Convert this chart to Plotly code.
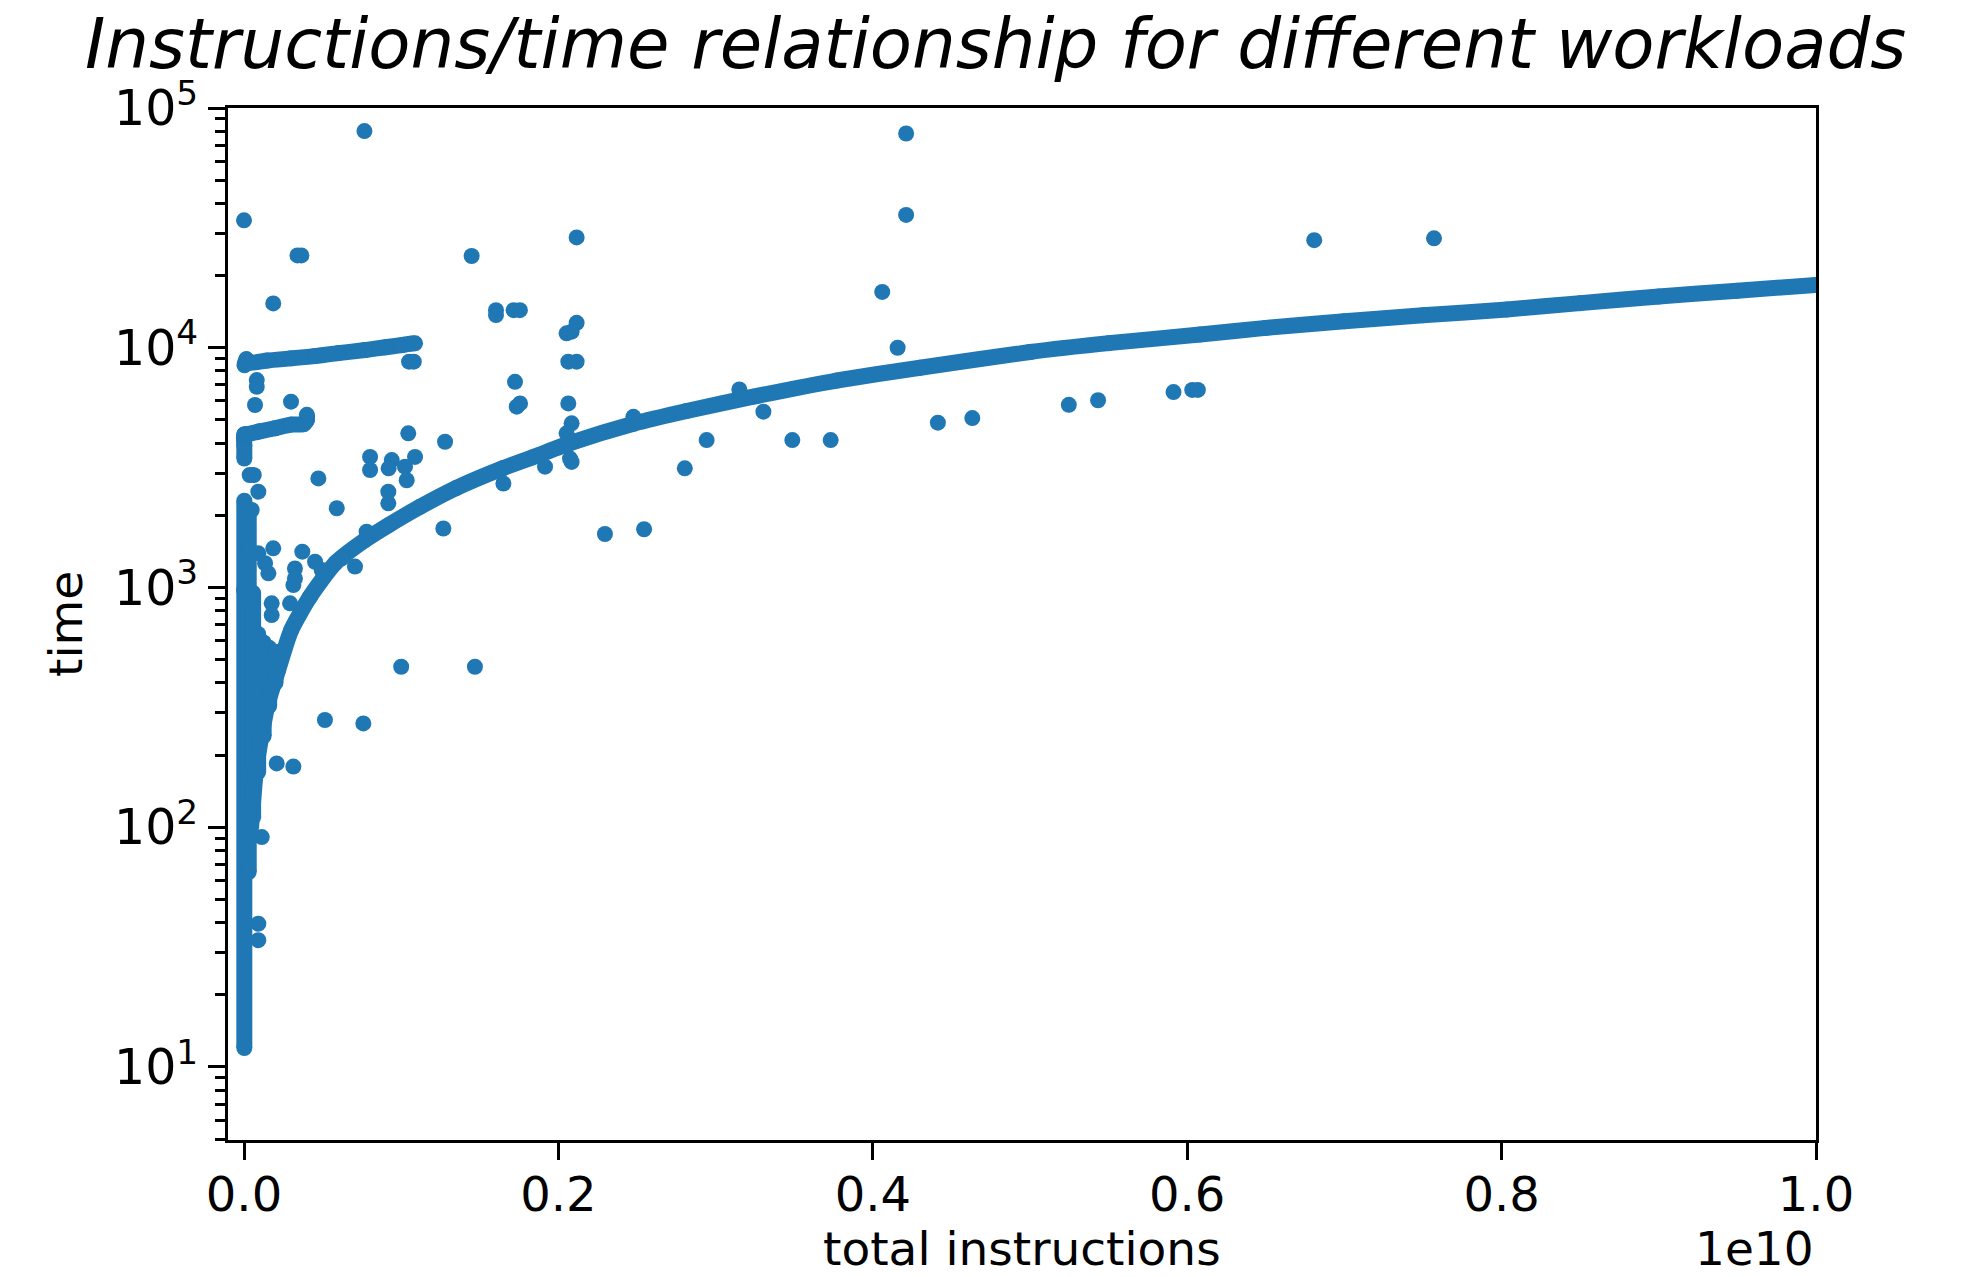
import plotly.graph_objects as go

# ---------------- data (x in units of 1e10 instructions, y = time) ----------------
E10 = 1e10

# dense main band
curve_x_e10 = [0.0045, 0.0076, 0.011, 0.0152, 0.0217, 0.030, 0.042, 0.058, 0.077, 0.092,
               0.112, 0.135, 0.165, 0.185, 0.2074, 0.2477, 0.2816, 0.324, 0.377, 0.43,
               0.50, 0.55, 0.6081, 0.65, 0.70, 0.75, 0.8034, 0.85, 0.90, 0.95, 1.0]
curve_time = [100, 173, 238, 329, 452, 664, 915, 1262, 1577, 1820,
              2170, 2600, 3150, 3520, 4000, 4820, 5450, 6250, 7300, 8250,
              9600, 10450, 11350, 12100, 12900, 13650, 14450, 15350, 16350, 17300, 18270]

# dense column of short workloads near x = 0 (each strand: x, lowest time, highest time)
column_x_e10 = [0.0002, 0.0030, 0.0058, 0.0090, 0.0125, 0.0160, 0.0200]
column_time_low = [12, 65, 110, 170, 240, 320, 400]
column_time_high = [2300, 2100, 950, 640, 590, 560, 540]

# upper plateau (~1e4)
plateau_hi_x_e10 = [0.0003, 0.0015, 0.0030, 0.0150, 0.0300, 0.0452, 0.0600, 0.0770,
                    0.0900, 0.1000, 0.1060, 0.1088]
plateau_hi_time = [8450, 8950, 8650, 8850, 9030, 9230, 9500, 9780, 10050, 10250, 10400, 10430]

# lower plateau (~4.5e3)
plateau_lo_x_e10 = [0.0002, 0.0002, 0.0002, 0.0027, 0.010, 0.020, 0.030, 0.038, 0.040, 0.040]
plateau_lo_time = [3450, 3900, 4350, 4365, 4480, 4620, 4780, 4800, 5000, 5250]

# scattered workloads
outlier_x_e10 = [0.0766, 0.4212, 0.4212, 0.0000, 0.0340, 0.0365, 0.1448, 0.2116, 0.6808, 0.7570,
                 0.4060, 0.0186, 0.1603, 0.1603, 0.1715, 0.1755, 0.2116, 0.2084, 0.2052, 0.4158,
                 0.2063, 0.2116, 0.1050, 0.1080, 0.0081, 0.0081, 0.1724, 0.0070, 0.0299, 0.1735,
                 0.1756, 0.2063, 0.2084, 0.2052, 0.5913, 0.6032, 0.6068, 0.5433, 0.5247, 0.4633,
                 0.4414, 0.3151, 0.3304, 0.3488, 0.3732, 0.2943, 0.2804, 0.2477, 0.1045, 0.1279,
                 0.0036, 0.0062, 0.0473, 0.0802, 0.0802, 0.0940, 0.0920, 0.1024, 0.1035, 0.1088,
                 0.0918, 0.0918, 0.0590, 0.0091, 0.0049, 0.1268, 0.2074, 0.2084, 0.1915, 0.1650,
                 0.2296, 0.2545, 0.0780, 0.0186, 0.0371, 0.0452, 0.0494, 0.0324, 0.0324, 0.0314,
                 0.0622, 0.0706, 0.0027, 0.0091, 0.0134, 0.0155, 0.0000, 0.0049, 0.0176, 0.0176,
                 0.0293, 0.0515, 0.0759, 0.1000, 0.1469, 0.0208, 0.0314, 0.0091, 0.0091, 0.0113]
outlier_time = [80100, 78300, 35800, 34000, 24270, 24270, 24140, 28840, 28100, 28600,
                17100, 15300, 14350, 13680, 14350, 14350, 12700, 11670, 11480, 10000,
                8750, 8750, 8750, 8750, 7330, 6870, 7210, 5770, 5960, 5680,
                5860, 5860, 4840, 4395, 6530, 6670, 6670, 6040, 5780, 5090,
                4870, 6700, 5410, 4120, 4120, 4120, 3140, 5150, 4395, 4055,
                2945, 2945, 2850, 3505, 3090, 3400, 3140, 3190, 2800, 3505,
                2510, 2245, 2140, 2510, 2105, 1762, 3450, 3340, 3190, 2715,
                1671, 1750, 1710, 1456, 1410, 1280, 1182, 1200, 1090, 1023,
                1322, 1222, 1503, 1388, 1262, 1146, 975, 885, 859, 767,
                859, 280, 271, 467, 467, 184.5, 179, 39.6, 33.8, 91]

x_tick_vals_e10 = [0.0, 0.2, 0.4, 0.6, 0.8, 1.0]
x_tick_text = ["0.0", "0.2", "0.4", "0.6", "0.8", "1.0"]
y_tick_vals = [10, 100, 1000, 10000, 100000]
y_tick_text = ["10<sup>1</sup>", "10<sup>2</sup>", "10<sup>3</sup>", "10<sup>4</sup>", "10<sup>5</sup>"]

# ---------------- styling ----------------
BLUE = "#1f77b4"
DOT = 16

fig = go.Figure()


def band(xs, ys):
    fig.add_trace(go.Scatter(
        x=[v * E10 for v in xs], y=ys, mode="lines+markers",
        line=dict(color=BLUE, width=DOT, shape="spline", smoothing=0.6),
        marker=dict(color=BLUE, size=DOT, line=dict(width=0)),
        showlegend=False, hoverinfo="skip"))


for cx, lo, hi in zip(column_x_e10, column_time_low, column_time_high):
    band([cx, cx], [lo, hi])
band(curve_x_e10, curve_time)
band(plateau_hi_x_e10, plateau_hi_time)
band(plateau_lo_x_e10, plateau_lo_time)

fig.add_trace(go.Scatter(
    x=[v * E10 for v in outlier_x_e10], y=outlier_time, mode="markers",
    marker=dict(color=BLUE, size=DOT, line=dict(width=0)), showlegend=False, hoverinfo="skip"))

minor_vals = [m * 10 ** d for d in range(0, 5) for m in range(2, 10) if m * 10 ** d >= 5]

fig.update_layout(
    width=1977, height=1277, autosize=False,
    margin=dict(l=228, r=161, t=108, b=137, pad=0),
    paper_bgcolor="white", plot_bgcolor="white",
    xaxis=dict(
        range=[-1.018e8, 1.0e10], tickmode="array",
        tickvals=[v * E10 for v in x_tick_vals_e10], ticktext=x_tick_text,
        ticks="outside", ticklen=17, tickwidth=3, tickcolor="black",
        ticklabelstandoff=-7,
        showgrid=False, zeroline=False, showline=True, mirror=True,
        linecolor="black", linewidth=3,
        tickfont=dict(family="DejaVu Sans", size=48, color="black")),
    yaxis=dict(
        type="log", range=[0.6954, 5.0], tickmode="array",
        tickvals=y_tick_vals, ticktext=y_tick_text,
        ticks="outside", ticklen=17, tickwidth=3, tickcolor="black",
        minor=dict(tickmode="array", tickvals=minor_vals, ticks="outside",
                   ticklen=10, tickwidth=2.5, tickcolor="black", showgrid=False),
        showgrid=False, zeroline=False, showline=True, mirror=True,
        linecolor="black", linewidth=3,
        tickfont=dict(family="DejaVu Sans", size=49, color="black")),
    annotations=[
        dict(text="<i>Instructions/time relationship for different workloads</i>",
             xref="paper", yref="paper", x=0.4836, y=1 + 64 / 1032,
             xanchor="center", yanchor="middle", showarrow=False,
             font=dict(family="DejaVu Sans", size=69, color="black")),
        dict(text="total instructions", xref="paper", yref="paper",
             x=0.5, y=-108 / 1032, xanchor="center", yanchor="middle", showarrow=False,
             font=dict(family="DejaVu Sans", size=47, color="black")),
        dict(text="1e10", xref="paper", yref="paper",
             x=1.0, y=-108 / 1032, xanchor="right", yanchor="middle", showarrow=False,
             font=dict(family="DejaVu Sans", size=47, color="black")),
        dict(text="time", xref="paper", yref="paper", textangle=-90,
             x=-163 / 1588, y=0.5, xanchor="center", yanchor="middle", showarrow=False,
             font=dict(family="DejaVu Sans", size=47, color="black")),
    ],
)

fig.write_html("out.html")
